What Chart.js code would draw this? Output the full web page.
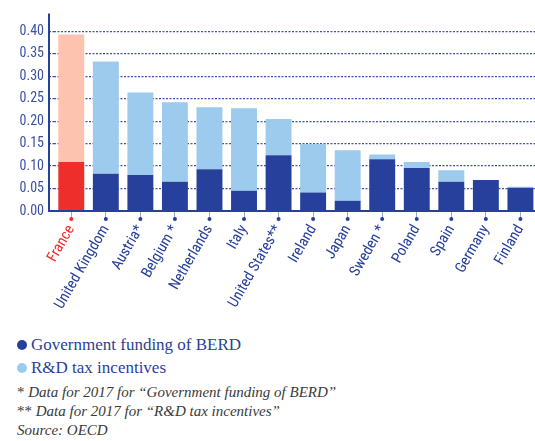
<!DOCTYPE html>
<html>
<head>
<meta charset="utf-8">
<script src="https://cdn.jsdelivr.net/npm/chart.js@4"></script>
<style>
  html, body { margin: 0; padding: 0; background: #fff; overflow: hidden; }
  .wrap { position: relative; width: 535px; height: 441px; overflow: hidden; }
  .chartBox { position: absolute; left: 0; top: 0; width: 539px; height: 320px; }
  .legend { position: absolute; left: 17px; top: 333px; font-size: 17px; color: #2b3f99; }
  .legend div { height: 23px; line-height: 23px; white-space: nowrap; }
  .legend i { display: inline-block; width: 10px; height: 10px; border-radius: 50%; margin-right: 4px; vertical-align: 0px; }
  .notes { position: absolute; left: 17px; top: 383px; font-size: 15px; color: #3a3a3a; line-height: 19px; white-space: nowrap; }
  .notes span { font-style: normal; }
</style>
</head>
<body>
<div class="wrap">
  <div class="chartBox"><canvas id="chart"></canvas></div>
  <div class="legend" style="font-family:'Liberation Serif'">
    <div><i style="background:#27409b"></i>Government funding of BERD</div>
    <div><i style="background:#9ccbed"></i>R&amp;D tax incentives</div>
  </div>
  <div class="notes" style="font-family:'Liberation Serif'; font-style:italic">
    <div><span>*</span> Data for 2017 for “Government funding of BERD”</div>
    <div><span>**</span> Data for 2017 for “R&amp;D tax incentives”</div>
    <div>Source: OECD</div>
  </div>
</div>
<script>
// Data
const countries = ["France","United Kingdom","Austria*","Belgium *","Netherlands","Italy","United States**","Ireland","Japan","Sweden *","Poland","Spain","Germany","Finland"];
const govFunding = [0.109,0.083,0.080,0.065,0.093,0.045,0.124,0.041,0.023,0.115,0.096,0.065,0.069,0.052];
const taxIncentives = [0.284,0.250,0.184,0.177,0.138,0.184,0.081,0.108,0.112,0.011,0.013,0.026,0,0.002];
const yTicks = [0,0.05,0.10,0.15,0.20,0.25,0.30,0.35,0.40];

const NAVY = "#27409b";
const LIGHT = "#9ccbed";
const RED = "#ee2e2b";
const PINK = "#fdc3ae";

/* ================= AXIS DECOR ================= */
const axisDecor = {
  id: "axisDecor",
  afterDraw(chart) {
    const { ctx, chartArea, scales: { x } } = chart;
    const ax = chartArea.left - 5;
    ctx.save();
    ctx.strokeStyle = NAVY;
    ctx.lineWidth = 2;
    ctx.beginPath();
    ctx.moveTo(ax, chartArea.top);
    ctx.lineTo(ax, chartArea.bottom);
    ctx.moveTo(ax - 1, chartArea.bottom);
    ctx.lineTo(chartArea.right + 5, chartArea.bottom);
    ctx.stroke();
    // dots at the end of the x ticks
    x.ticks.forEach((t, i) => {
      ctx.fillStyle = i === 0 ? RED : NAVY;
      ctx.beginPath();
      ctx.arc(x.getPixelForTick(i), chartArea.bottom + 8, 2, 0, Math.PI * 2);
      ctx.fill();
    });
    ctx.restore();
  }
};

new Chart(document.getElementById("chart"), {
  type: "bar",
  data: {
    labels: countries,
    datasets: [
      {
        label: "Government funding of BERD",
        data: govFunding,
        backgroundColor: countries.map((c, i) => i === 0 ? RED : NAVY),
        barPercentage: 0.75,
        categoryPercentage: 1
      },
      {
        label: "R&D tax incentives",
        data: taxIncentives,
        backgroundColor: countries.map((c, i) => i === 0 ? PINK : LIGHT),
        barPercentage: 0.75,
        categoryPercentage: 1
      }
    ]
  },
  options: {
    responsive: true,
    maintainAspectRatio: false,
    animation: false,
    layout: { padding: { top: 0, right: 0, bottom: 0, left: 0 } },
    plugins: { legend: { display: false }, tooltip: { enabled: false } },
    scales: {
      x: {
        stacked: true,
        afterFit: s => { s.height = 109; },
        border: { display: false },
        grid: {
          offset: false,
          drawOnChartArea: false,
          drawTicks: true,
          tickLength: 8,
          tickColor: "#9aa6d6",
          tickWidth: 1
        },
        ticks: {
          autoSkip: false,
          maxRotation: 60,
          minRotation: 60,
          padding: 3,
          font: { family: "Roboto Condensed", size: 15 },
          color: c => c.index === 0 ? RED : NAVY
        }
      },
      y: {
        stacked: true,
        min: 0,
        max: 0.44,
        afterFit: s => { s.width = 54; },
        afterBuildTicks: s => { s.ticks = yTicks.map(v => ({ value: v })); },
        border: { display: false, dash: [2, 1.5] },
        grid: {
          color: "#3d52a8",
          lineWidth: 1.3,
          drawTicks: true,
          tickLength: 5,
          tickBorderDash: [2, 1.5]
        },
        ticks: {
          padding: 5,
          font: { family: "Roboto Condensed", size: 14 },
          color: "#3b4fa3",
          callback: v => v.toFixed(2)
        }
      }
    }
  },
  plugins: [axisDecor]
});
</script>
</body>
</html>
